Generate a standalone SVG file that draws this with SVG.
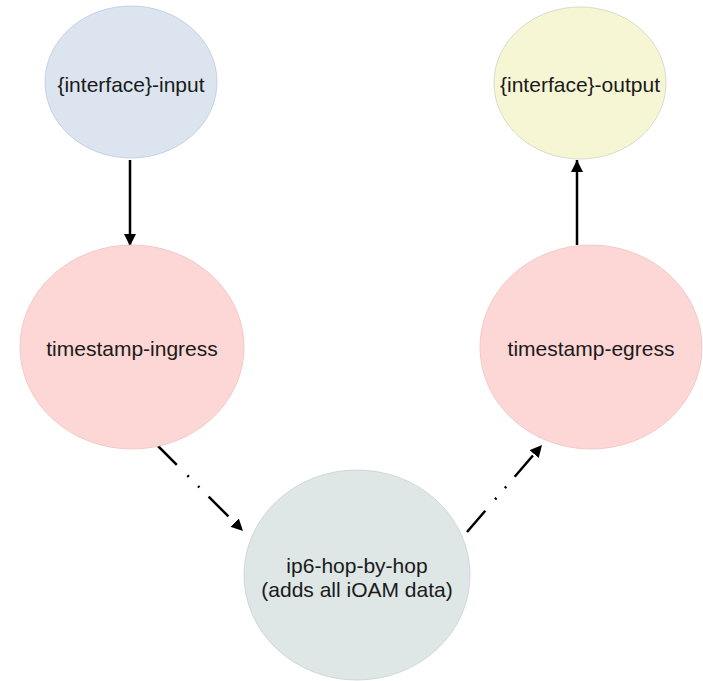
<svg xmlns="http://www.w3.org/2000/svg" width="703" height="681" viewBox="0 0 703 681">
<style>
text{font-family:"Liberation Sans",Arial,sans-serif;font-size:21px;fill:#1a1a1a;text-anchor:middle;dominant-baseline:central}
.e{stroke-width:1}
.c{stroke:#000;stroke-width:2.5;fill:none}
.d{stroke-dasharray:28 15 2 13 2 13}
</style>
<defs>
<marker id="ah" viewBox="0 0 10 10" refX="10" refY="5" markerWidth="12" markerHeight="12" markerUnits="userSpaceOnUse" orient="auto">
<path d="M0,0 L10,5 L0,10 Z" fill="#000"/>
</marker>
</defs>
<rect width="703" height="681" fill="#fff"/>
<g id="connectors">
<line class="c" x1="130" y1="160" x2="130" y2="246" marker-end="url(#ah)"/>
<line class="c" x1="577" y1="245" x2="577" y2="160" marker-end="url(#ah)"/>
<line class="c d" x1="157" y1="445" x2="243" y2="531" marker-end="url(#ah)"/>
<line class="c d" x1="467" y1="532" x2="542" y2="445" marker-end="url(#ah)"/>
</g>
<g id="input">
<ellipse class="e" cx="131" cy="82" rx="86" ry="76" fill="#dce5ef" stroke="#c3d2e3"/>
<text x="131" y="84">{interface}-input</text>
</g>
<g id="output">
<ellipse class="e" cx="580" cy="83" rx="86" ry="76" fill="#f6f6d4" stroke="#d9dcc8"/>
<text x="580" y="84">{interface}-output</text>
</g>
<g id="ingress">
<ellipse class="e" cx="132" cy="347" rx="112" ry="102" fill="#fdd6d6" stroke="#f3caca"/>
<text x="132" y="348">timestamp-ingress</text>
</g>
<g id="egress">
<ellipse class="e" cx="591" cy="347" rx="111" ry="102" fill="#fdd6d6" stroke="#f3caca"/>
<text x="591" y="348">timestamp-egress</text>
</g>
<g id="hbh">
<ellipse class="e" cx="357" cy="575" rx="113" ry="105" fill="#dee6e6" stroke="#cfd9d9"/>
<text x="357" y="565">ip6-hop-by-hop</text>
<text x="357" y="589">(adds all iOAM data)</text>
</g>
</svg>
